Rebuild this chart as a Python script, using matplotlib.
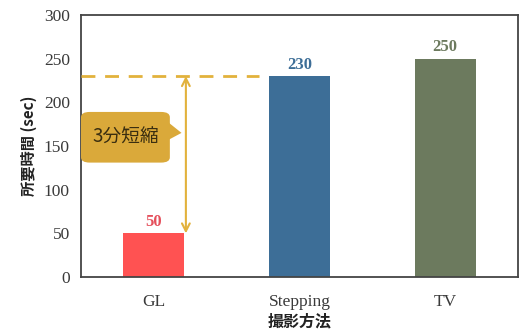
import matplotlib
matplotlib.use("Agg")
import matplotlib.pyplot as plt
from matplotlib.patches import FancyBboxPatch, Polygon

categories = ["GL", "Stepping", "TV"]
values = [50, 230, 250]
bar_colors = ["#FF5252", "#3D6E97", "#6C7A5E"]
label_colors = ["#E5505C", "#3D6E97", "#6C7A5E"]
yticks = [0, 50, 100, 150, 200, 250, 300]
callout_text = "3分短縮"
ylabel = "所要時間 (sec)"
xlabel = "撮影方法"

gold = "#E2B23C"
serif = ["Liberation Serif", "DejaVu Serif"]
cjk = ["Noto Sans CJK JP", "DejaVu Sans"]

fig = plt.figure(figsize=(5.25, 3.33), dpi=100)
ax = fig.add_axes([81/525, 1 - 277/333, (518-81)/525, (277-15)/333])

x = list(range(len(categories)))
ax.bar(x, values, width=0.42, color=bar_colors, zorder=2)
for xi, v, c in zip(x, values, label_colors):
    ax.text(xi, v + 4, str(v), ha="center", va="bottom", color=c,
            fontsize=12, fontweight="bold", family=serif)

ax.set_xlim(-0.5, 2.5)
ax.set_ylim(0, 300)
ax.set_yticks(yticks)
ax.set_xticks(x)
ax.set_xticklabels(categories)
ax.tick_params(length=0, labelsize=12.5, colors="#3a3a3a", pad=8)
for lab in ax.get_xticklabels() + ax.get_yticklabels():
    lab.set_family(serif)
ax.tick_params(axis="x", pad=12)
for s in ax.spines.values():
    s.set_color("#444444")
    s.set_linewidth(1.3)

# dashed reference line at Stepping level
ax.plot([-0.5, 0.72], [values[1], values[1]], ls=(0, (5, 3.5)), color=gold, lw=2, zorder=3)
# double arrow (open heads)
ax.annotate("", xy=(0.22, values[0]), xytext=(0.22, values[1]),
            arrowprops=dict(arrowstyle="<->,head_length=0.55,head_width=0.28",
                            color=gold, lw=1.5, shrinkA=0, shrinkB=0), zorder=3)
# callout
box = FancyBboxPatch((-0.5, 131), 0.61, 58, boxstyle="round,pad=0,rounding_size=0.06",
                     mutation_aspect=100, facecolor="#DAA93A", edgecolor="none", zorder=3)
ax.add_patch(box)
ax.add_patch(Polygon([(0.10, 177), (0.19, 165), (0.10, 157)], closed=True,
                     facecolor="#DAA93A", edgecolor="none", zorder=3))
ax.text(-0.19, 160, callout_text, ha="center", va="center", fontsize=13.5,
        color="#3A2E10", family=cjk, zorder=4)

ax.set_ylabel(ylabel, family=cjk, fontweight="bold", fontsize=11, color="#222222", labelpad=5)
ax.set_xlabel(xlabel, family=cjk, fontweight="bold", fontsize=11.5, color="#222222", labelpad=3)

fig.savefig("out.png", dpi=100)
